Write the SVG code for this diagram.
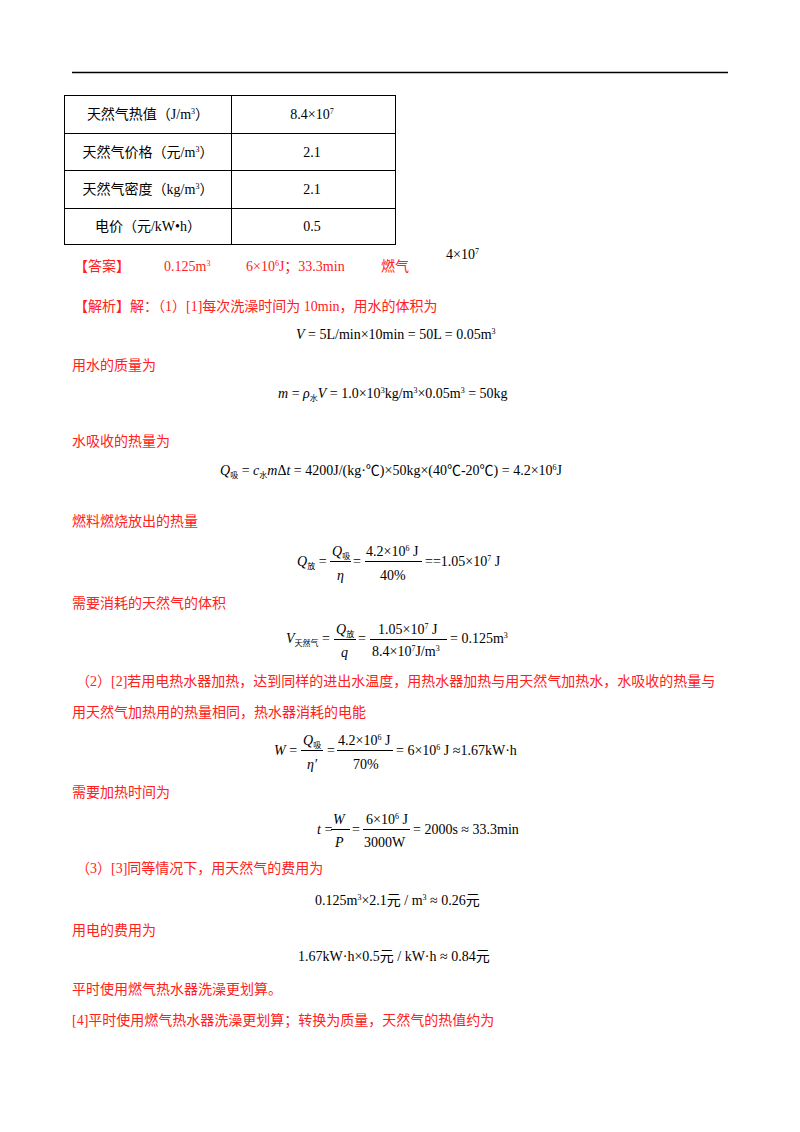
<svg xmlns="http://www.w3.org/2000/svg" width="800" height="1132" viewBox="0 0 800 1132">
<style>
text{font-family:"Liberation Serif","Noto Sans CJK SC",serif;font-size:14px;fill:#000}
.r{fill:#ff2020}
.i{font-style:italic}
.s{font-size:8px}
.ln{stroke:#000;stroke-width:1}
</style>
<rect width="800" height="1132" fill="#fff"/>
<line x1="72" y1="72.5" x2="728" y2="72.5" stroke="#000" stroke-width="1.5"/>
<g id="table" fill="none" stroke="#000" stroke-width="1">
<rect x="64.5" y="95.5" width="331" height="149"/>
<line x1="231.5" y1="95.5" x2="231.5" y2="244.5"/>
<line x1="64.5" y1="133.5" x2="395.5" y2="133.5"/>
<line x1="64.5" y1="170.5" x2="395.5" y2="170.5"/>
<line x1="64.5" y1="208.5" x2="395.5" y2="208.5"/>
</g>
<g id="tabletext">
<text x="148" y="119" text-anchor="middle">天然气热值（J/m<tspan class="s" dy="-5">3</tspan><tspan dy="5">）</tspan></text>
<text x="312" y="119" text-anchor="middle">8.4×10<tspan class="s" dy="-5">7</tspan></text>
<text x="148" y="157" text-anchor="middle">天然气价格（元/m<tspan class="s" dy="-5">3</tspan><tspan dy="5">）</tspan></text>
<text x="312" y="157" text-anchor="middle">2.1</text>
<text x="148" y="194" text-anchor="middle">天然气密度（kg/m<tspan class="s" dy="-5">3</tspan><tspan dy="5">）</tspan></text>
<text x="312" y="194" text-anchor="middle">2.1</text>
<text x="148" y="231" text-anchor="middle">电价（元/kW•h）</text>
<text x="312" y="231" text-anchor="middle">0.5</text>
</g>
<text class="r" x="74" y="271">【答案】</text>
<text class="r" x="164" y="271">0.125m<tspan class="s" dy="-5">3</tspan></text>
<text class="r" x="246" y="271">6×10<tspan class="s" dy="-5">6</tspan><tspan dy="5">J；33.3min</tspan></text>
<text class="r" x="381" y="271">燃气</text>
<text x="446" y="259">4×10<tspan class="s" dy="-5">7</tspan></text>
<text class="r" x="74" y="311">【解析】解：（1）[1]每次洗澡时间为 10min，用水的体积为</text>
<text x="296" y="339"><tspan class="i">V</tspan> = 5L/min×10min = 50L = 0.05m<tspan class="s" dy="-5">3</tspan></text>
<text class="r" x="72" y="370">用水的质量为</text>
<text x="278" y="398"><tspan class="i">m</tspan> = <tspan class="i">ρ</tspan><tspan class="s" dy="3">水</tspan><tspan class="i" dy="-3">V</tspan> = 1.0×10<tspan class="s" dy="-5">3</tspan><tspan dy="5">kg/m</tspan><tspan class="s" dy="-5">3</tspan><tspan dy="5">×0.05m</tspan><tspan class="s" dy="-5">3</tspan><tspan dy="5"> = 50kg</tspan></text>
<text class="r" x="72" y="446">水吸收的热量为</text>
<text x="220" y="475"><tspan class="i">Q</tspan><tspan class="s" dy="3">吸</tspan><tspan dy="-3"> = </tspan><tspan class="i">c</tspan><tspan class="s" dy="3">水</tspan><tspan class="i" dy="-3">m</tspan>Δ<tspan class="i">t</tspan> = 4200J/(kg·℃)×50kg×(40℃-20℃) = 4.2×10<tspan class="s" dy="-5">6</tspan><tspan dy="5">J</tspan></text>
<text class="r" x="72" y="526">燃料燃烧放出的热量</text>
<g id="f1">
<text x="297" y="566"><tspan class="i">Q</tspan><tspan class="s" dy="3">放</tspan><tspan dy="-3"> =</tspan></text>
<text x="332" y="556"><tspan class="i">Q</tspan><tspan class="s" dy="3">吸</tspan></text>
<line class="ln" x1="330" y1="561.5" x2="351" y2="561.5"/>
<text x="337" y="580" class="i">η</text>
<text x="353" y="566">=</text>
<text x="366" y="556">4.2×10<tspan class="s" dy="-5">6</tspan><tspan dy="5"> J</tspan></text>
<line class="ln" x1="365" y1="561.5" x2="422" y2="561.5"/>
<text x="380" y="580">40%</text>
<text x="425" y="566">==1.05×10<tspan class="s" dy="-5">7</tspan><tspan dy="5"> J</tspan></text>
</g>
<text class="r" x="72" y="608">需要消耗的天然气的体积</text>
<g id="f2">
<text x="286" y="643"><tspan class="i">V</tspan><tspan class="s" dy="3">天然气</tspan><tspan dy="-3"> =</tspan></text>
<text x="336" y="634"><tspan class="i">Q</tspan><tspan class="s" dy="3">放</tspan></text>
<line class="ln" x1="334" y1="639.5" x2="356" y2="639.5"/>
<text x="341" y="657" class="i">q</text>
<text x="358" y="643">=</text>
<text x="378" y="634">1.05×10<tspan class="s" dy="-5">7</tspan><tspan dy="5"> J</tspan></text>
<line class="ln" x1="370" y1="639.5" x2="447" y2="639.5"/>
<text x="372" y="656">8.4×10<tspan class="s" dy="-5">7</tspan><tspan dy="5">J/m</tspan><tspan class="s" dy="-5">3</tspan></text>
<text x="450" y="643">= 0.125m<tspan class="s" dy="-5">3</tspan></text>
</g>
<text class="r" x="76" y="686">（2）[2]若用电热水器加热，达到同样的进出水温度，用热水器加热与用天然气加热水，水吸收的热量与</text>
<text class="r" x="72" y="717">用天然气加热用的热量相同，热水器消耗的电能</text>
<g id="f3">
<text x="274" y="755"><tspan class="i">W</tspan> =</text>
<text x="303" y="745"><tspan class="i">Q</tspan><tspan class="s" dy="3">吸</tspan></text>
<line class="ln" x1="301" y1="750.5" x2="323" y2="750.5"/>
<text x="307" y="769" class="i">η′</text>
<text x="327" y="755">=</text>
<text x="338" y="745">4.2×10<tspan class="s" dy="-5">6</tspan><tspan dy="5"> J</tspan></text>
<line class="ln" x1="337" y1="750.5" x2="393" y2="750.5"/>
<text x="353" y="769">70%</text>
<text x="396" y="755">= 6×10<tspan class="s" dy="-5">6</tspan><tspan dy="5"> J ≈1.67kW·h</tspan></text>
</g>
<text class="r" x="72" y="797">需要加热时间为</text>
<g id="f4">
<text x="317" y="834"><tspan class="i">t</tspan> =</text>
<text x="333" y="824" class="i">W</text>
<line class="ln" x1="331" y1="829.5" x2="350" y2="829.5"/>
<text x="335" y="847" class="i">P</text>
<text x="352" y="834">=</text>
<text x="366" y="824">6×10<tspan class="s" dy="-5">6</tspan><tspan dy="5"> J</tspan></text>
<line class="ln" x1="363" y1="829.5" x2="410" y2="829.5"/>
<text x="364" y="847">3000W</text>
<text x="413" y="834">= 2000s ≈ 33.3min</text>
</g>
<text class="r" x="76" y="873">（3）[3]同等情况下，用天然气的费用为</text>
<text x="315" y="905">0.125m<tspan class="s" dy="-5">3</tspan><tspan dy="5">×2.1元 / m</tspan><tspan class="s" dy="-5">3</tspan><tspan dy="5"> ≈ 0.26元</tspan></text>
<text class="r" x="72" y="935">用电的费用为</text>
<text x="298" y="961">1.67kW·h×0.5元 / kW·h ≈ 0.84元</text>
<text class="r" x="72" y="994">平时使用燃气热水器洗澡更划算。</text>
<text class="r" x="72" y="1025">[4]平时使用燃气热水器洗澡更划算；转换为质量，天然气的热值约为</text>
</svg>
